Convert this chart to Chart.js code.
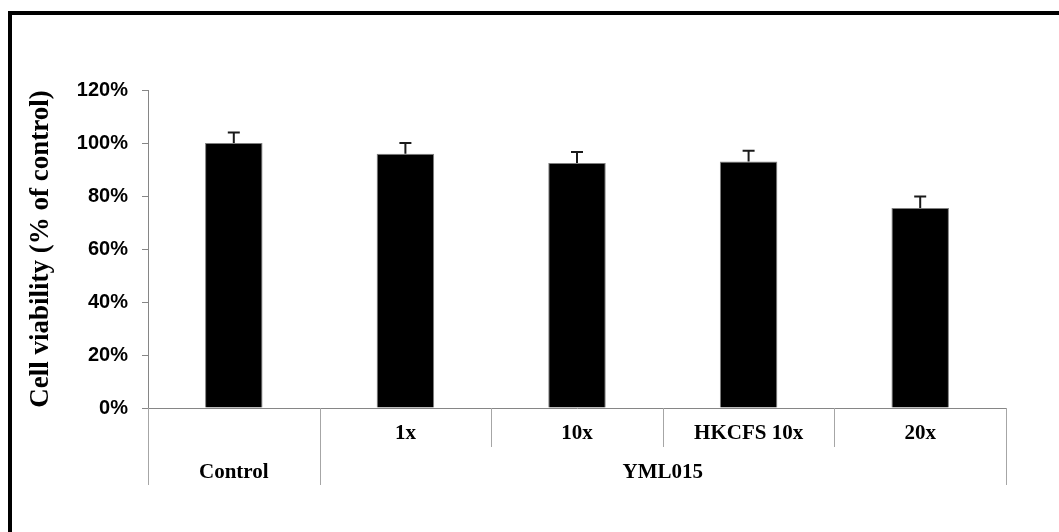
<!DOCTYPE html>
<html><head><meta charset="utf-8">
<script src="https://cdn.jsdelivr.net/npm/chart.js@4.4.1/dist/chart.umd.min.js"></script>
<style>html,body{margin:0;padding:0;background:#fff;}#wrap{width:1059px;height:532px;position:relative;}</style>
</head><body><div id="wrap"><canvas id="c" width="1059" height="532"></canvas></div>
<script>
const categories = ['Control', '1x', '10x', 'HKCFS 10x', '20x'];
const subLabels = ['', '1x', '10x', 'HKCFS 10x', '20x'];
const groupLabels = ['Control', 'YML015'];
const groupSpans = [1, 4];
const viability = [100.0, 95.9, 92.5, 93.0, 75.5];
const errors = [4.0, 4.1, 4.1, 4.1, 4.3];
const yMin = 0, yMax = 120, yStep = 20;

const SERIF = "'Liberation Serif', 'Times New Roman', serif";
const SANS = "'Liberation Sans', Arial, sans-serif";

const framePlugin = {
  id: 'frame',
  beforeDraw(chart) {
    const ctx = chart.ctx;
    ctx.save();
    ctx.fillStyle = '#ffffff';
    ctx.fillRect(0, 0, chart.width, chart.height);
    ctx.fillStyle = '#000000';
    ctx.fillRect(8, 11, 4, chart.height - 11);
    ctx.fillRect(8, 11, chart.width - 8, 4);
    ctx.restore();
  }
};

const errorBarPlugin = {
  id: 'errorBars',
  afterDatasetsDraw(chart) {
    const ctx = chart.ctx;
    const ys = chart.scales.y;
    const meta = chart.getDatasetMeta(0);
    ctx.save();
    ctx.strokeStyle = '#1a1a1a';
    ctx.lineWidth = 2;
    meta.data.forEach((bar, i) => {
      const top = ys.getPixelForValue(viability[i] + errors[i]);
      ctx.beginPath();
      ctx.moveTo(bar.x, bar.y);
      ctx.lineTo(bar.x, top);
      ctx.moveTo(bar.x - 6, top);
      ctx.lineTo(bar.x + 6, top);
      ctx.stroke();
    });
    ctx.restore();
  }
};

const multiLevelPlugin = {
  id: 'multiLevel',
  afterDraw(chart) {
    const ctx = chart.ctx;
    const xs = chart.scales.x;
    const base = chart.chartArea.bottom;
    const n = categories.length;
    const step = xs.getPixelForValue(1) - xs.getPixelForValue(0);
    const edge = i => xs.getPixelForValue(i) - step / 2;
    const groupEdges = [0];
    groupSpans.forEach(s => groupEdges.push(groupEdges[groupEdges.length - 1] + s));
    ctx.save();
    ctx.strokeStyle = '#a6a6a6';
    ctx.lineWidth = 1;
    for (let b = 0; b <= n; b++) {
      const x = Math.round(edge(b)) + 0.5;
      const long = groupEdges.includes(b);
      ctx.beginPath();
      ctx.moveTo(x, base);
      ctx.lineTo(x, base + (long ? 77 : 39));
      ctx.stroke();
    }
    ctx.fillStyle = '#000';
    ctx.textAlign = 'center';
    ctx.textBaseline = 'middle';
    ctx.font = 'bold 21px ' + SERIF;
    subLabels.forEach((lab, i) => {
      if (lab) ctx.fillText(lab, xs.getPixelForValue(i), base + 26);
    });
    groupLabels.forEach((lab, g) => {
      const cx = (edge(groupEdges[g]) + edge(groupEdges[g + 1])) / 2;
      ctx.fillText(lab, cx, base + 65);
    });
    ctx.restore();
  }
};

new Chart(document.getElementById('c'), {
  type: 'bar',
  data: {
    labels: categories,
    datasets: [{
      data: viability,
      backgroundColor: '#000000',
      borderColor: '#7f7f7f',
      borderWidth: 1,
      barPercentage: 0.335,
      categoryPercentage: 1.0
    }]
  },
  options: {
    responsive: false,
    animation: false,
    devicePixelRatio: 1,
    layout: { padding: { left: 10, top: 90, right: 53, bottom: 47 } },
    plugins: { legend: { display: false }, tooltip: { enabled: false } },
    scales: {
      x: {
        offset: true,
        grid: { display: false },
        border: { display: true, color: '#868686', width: 1 },
        ticks: { display: false },
        afterFit(scale) { scale.height = 77; }
      },
      y: {
        min: yMin, max: yMax,
        ticks: {
          stepSize: yStep,
          padding: 14,
          color: '#000',
          font: { family: SANS, size: 20, weight: 'bold' },
          callback: v => v + '%'
        },
        grid: { drawOnChartArea: false, drawTicks: true, tickLength: 6, color: '#868686' },
        border: { display: true, color: '#868686', width: 1 },
        title: {
          display: true,
          text: 'Cell viability (% of control)',
          color: '#000',
          font: { family: SERIF, size: 27, weight: 'bold' },
          padding: { top: 15, bottom: 0 }
        },
        afterFit(scale) { scale.width = 138; }
      }
    }
  },
  plugins: [framePlugin, errorBarPlugin, multiLevelPlugin]
});
</script>
</body></html>
